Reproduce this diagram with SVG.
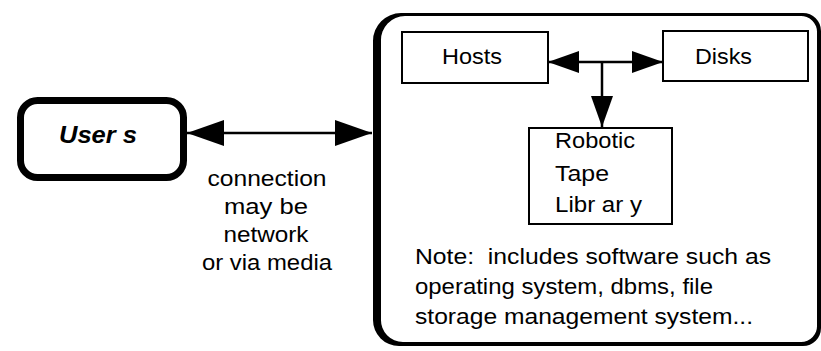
<svg xmlns="http://www.w3.org/2000/svg" width="821" height="351" viewBox="0 0 821 351">
  <defs>
    <marker id="headLarge" viewBox="0 0 37 26" refX="37" refY="13" markerWidth="37" markerHeight="26" markerUnits="userSpaceOnUse" orient="auto-start-reverse">
      <path d="M0,0 L37,13 L0,26 Z" fill="#000"/>
    </marker>
    <marker id="headSmall" viewBox="0 0 31 22" refX="31" refY="11" markerWidth="31" markerHeight="22" markerUnits="userSpaceOnUse" orient="auto-start-reverse">
      <path d="M0,0 L31,11 L0,22 Z" fill="#000"/>
    </marker>
  </defs>
  <style>
    text { font-family: "Liberation Sans", Arial, Helvetica, sans-serif; fill: #000; }
    .lbl { font-size: 22px; }
    .box { fill: #fff; stroke: #000; stroke-width: 2; }
    .wire { fill: none; stroke: #000; stroke-width: 2.5; }
  </style>
  <rect width="821" height="351" fill="#fff"/>

  <!-- outer system boundary: heavier rule on the left, thinner top/right -->
  <g id="system">
    <path fill="#000" fill-rule="evenodd" d="M401,13 H803 A18,18 0 0 1 821,31 V328 A18,18 0 0 1 803,346 H399 A26,26 0 0 1 373,320 V41 A28,28 0 0 1 401,13 Z M405,16 H800 A16,16 0 0 1 817,33 V325 A16,16 0 0 1 801,342 H403 A22,22 0 0 1 381,319 V41 A24,24 0 0 1 405,16 Z"/>
    <text class="lbl" xml:space="preserve" x="415" y="264" textLength="356" lengthAdjust="spacingAndGlyphs">Note:  includes software such as</text>
    <text class="lbl" x="415" y="294" textLength="298" lengthAdjust="spacingAndGlyphs">operating system, dbms, file</text>
    <text class="lbl" x="415" y="324" textLength="338" lengthAdjust="spacingAndGlyphs">storage management system...</text>
  </g>

  <g id="users">
    <rect x="20.5" y="100.5" width="163" height="77" rx="17" fill="#fff" stroke="#000" stroke-width="7"/>
    <text x="59" y="143" font-size="23" font-weight="bold" font-style="italic" xml:space="preserve" textLength="78" lengthAdjust="spacingAndGlyphs">User s</text>
  </g>

  <g id="hosts">
    <rect class="box" x="402" y="32" width="146" height="51"/>
    <text class="lbl" x="442" y="64" textLength="60" lengthAdjust="spacingAndGlyphs">Hosts</text>
  </g>

  <g id="disks">
    <rect class="box" x="663" y="31" width="145" height="50"/>
    <text class="lbl" x="695" y="64" textLength="57" lengthAdjust="spacingAndGlyphs">Disks</text>
  </g>

  <g id="tape-library">
    <rect class="box" x="529" y="128" width="143" height="96"/>
    <text class="lbl" x="555" y="148" textLength="80" lengthAdjust="spacingAndGlyphs">Robotic</text>
    <text class="lbl" x="555" y="181" textLength="54" lengthAdjust="spacingAndGlyphs">Tape</text>
    <text class="lbl" x="555" y="212" xml:space="preserve" textLength="87" lengthAdjust="spacingAndGlyphs">Libr ar y</text>
  </g>

  <g id="connection-note" text-anchor="middle">
    <text class="lbl" x="267" y="186" textLength="119" lengthAdjust="spacingAndGlyphs">connection</text>
    <text class="lbl" x="266" y="214" textLength="84" lengthAdjust="spacingAndGlyphs">may be</text>
    <text class="lbl" x="266" y="242" textLength="85" lengthAdjust="spacingAndGlyphs">network</text>
    <text class="lbl" x="267" y="270" textLength="130" lengthAdjust="spacingAndGlyphs">or via media</text>
  </g>

  <g id="connectors">
    <path class="wire" d="M187,133 H372" marker-start="url(#headLarge)" marker-end="url(#headLarge)"/>
    <path class="wire" d="M548,62 H663" marker-start="url(#headSmall)" marker-end="url(#headSmall)"/>
    <path class="wire" d="M602,62 V127" marker-end="url(#headSmall)"/>
  </g>
</svg>
